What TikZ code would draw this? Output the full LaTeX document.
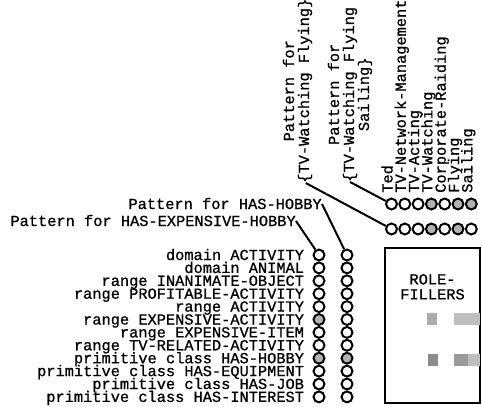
\documentclass[tikz,border=0pt]{standalone}
\usepackage{fontspec}
\newfontfamily\labfont[FakeBold=0.9]{Liberation Mono}
\usetikzlibrary{positioning}
\tikzset{
  bit/.style   = {circle, draw, line width=1.5pt, minimum size=8.2pt, inner sep=0pt},
  set/.style   = {bit, fill=gray!60},
  lab/.style   = {font=\labfont\fontsize{11.5}{11.25}\selectfont, inner sep=0pt,
                  text height=7.5pt, text depth=0pt},
  vlab/.style  = {lab, rotate=90, anchor=west},
  plab/.style  = {font=\labfont\fontsize{11.5}{11.25}\selectfont, inner sep=0pt,
                  align=center},
  link/.style  = {line width=1.5pt},
  panel/.style = {draw, line width=1.2pt, minimum width=71.25pt, minimum height=116.25pt},
  cell/.style  = {inner sep=0pt, minimum width=7.5pt, minimum height=9pt},
}

\begin{document}
\begin{tikzpicture}[x=0.75pt, y=-0.75pt]
\useasboundingbox (0,0) rectangle (482,407);

% Feature columns
\foreach \s [count=\i] in {bit,bit,bit,bit,bit,set,bit,bit,set,bit,bit,bit}
  \node (e\i) [\s] at (319, 242.1+12.9*\i) {};
\foreach \s [count=\i] in {bit,bit,bit,bit,bit,bit,bit,bit,set,bit,bit,bit}
  \node (h\i) [\s] at (347, 242.1+12.9*\i) {};

% Feature names
\foreach \t [count=\i] in {domain ACTIVITY, domain ANIMAL, range INANIMATE-OBJECT,
    range PROFITABLE-ACTIVITY, range ACTIVITY, range EXPENSIVE-ACTIVITY,
    range EXPENSIVE-ITEM, range TV-RELATED-ACTIVITY, primitive class HAS-HOBBY,
    primitive class HAS-EQUIPMENT, primitive class HAS-JOB, primitive class HAS-INTEREST}
  \node (l\i) [lab, left=6.2pt of e\i] {\t};

% Instance rows
\foreach \s [count=\k] in {bit,bit,bit,set,bit,set,set}
  \node (s\k) [\s] at (378.2+13.3*\k, 204) {};
\foreach \s [count=\k] in {bit,bit,bit,set,bit,set,bit}
  \node (f\k) [\s] at (378.2+13.3*\k, 229) {};

% Instance names
\foreach \t [count=\k] in {Ted, TV-Network-Management, TV-Acting, TV-Watching,
    Corporate-Raiding, Flying, Sailing}
  \node (n\k) [vlab] at (374.2+13.3*\k, 193) {\t};

% Patterns
\node (ph)  [lab, anchor=east] at (322, 204) {Pattern for HAS-HOBBY};
\node (peh) [lab, anchor=east] at (296, 221) {Pattern for HAS-EXPENSIVE-HOBBY};
\node (pf)  [plab, rotate=90, anchor=west] at (297.5, 183)
  {Pattern for\\\{TV-Watching Flying\}};
\node (pfs) [plab, rotate=90, anchor=west] at (350, 182)
  {Pattern for\\\{TV-Watching Flying\\Sailing\}};

\draw [link] (ph.east) -- (h1);
\draw [link] (peh.east) -- (e1);
\draw [link] ([xshift=-5pt]pf.south west) -- (f1);
\draw [link] (pfs.west) -- (s1);

% Role fillers
\node (roles) [panel] at (432.5, 325.5) {};
\node (rolelab) [plab, below=20pt of roles.north] {ROLE-\\FILLERS};
\node (c1) [cell, fill=gray!65] at (432, 319) {};
\node (c2) [cell, fill=gray!50, minimum width=19.5pt] at (467, 319) {};
\node (c3) [cell, fill=gray!90] at (432.5, 359.5) {};
\node (c4) [cell, fill=gray!80, minimum width=10.5pt] at (461, 359.5) {};
\node (c5) [cell, fill=gray!50, minimum width=9pt] at (474, 359.5) {};

\end{tikzpicture}
\end{document}
